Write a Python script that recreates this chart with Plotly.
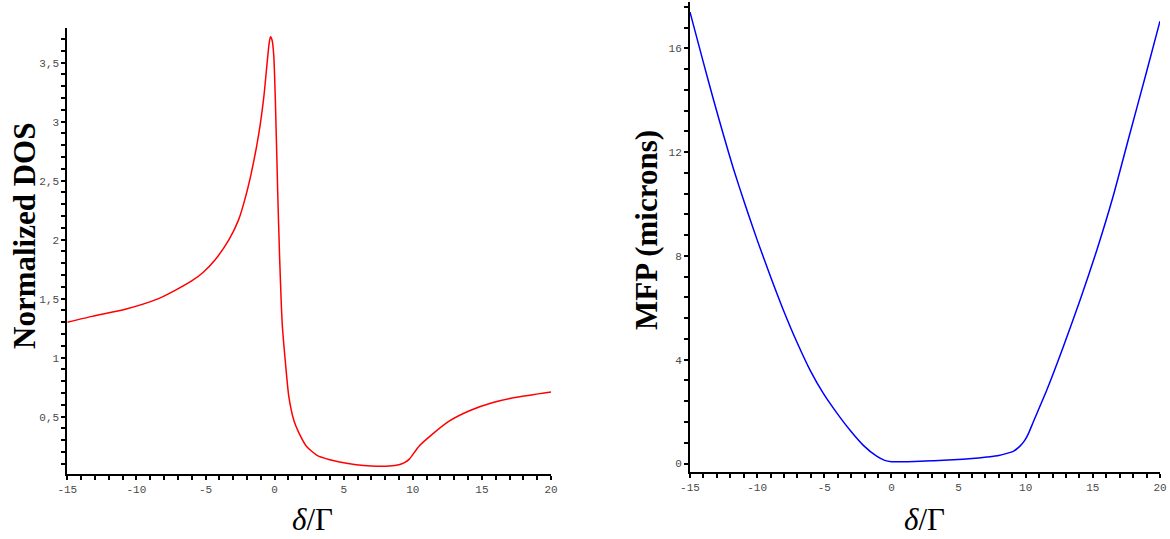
import plotly.graph_objects as go

# ---- data ----
delta_dos = [-15, -13.2, -10.8, -8.4, -7.2, -6.0, -5.2, -4.3, -3.3, -2.6, -2.2, -1.75, -1.14,
             -0.78, -0.54, -0.40, -0.30, -0.18, -0.06, 0.06, 0.23, 0.36, 0.55, 0.79, 1.03,
             1.39, 1.75, 2.3, 3.1, 4.0, 4.7, 5.9, 7.0, 8.3, 9.0, 9.4, 9.75, 10.45, 11.4,
             12.6, 14.1, 15.8, 17.5, 20.0]
dos = [1.30, 1.35, 1.41, 1.50, 1.57, 1.65, 1.72, 1.83, 2.00, 2.17, 2.32, 2.53, 2.90,
       3.21, 3.50, 3.66, 3.72, 3.69, 3.56, 3.16, 2.38, 1.86, 1.29, 0.95, 0.67,
       0.47, 0.365, 0.25, 0.17, 0.135, 0.116, 0.093, 0.082, 0.082, 0.093, 0.11, 0.14, 0.25, 0.35,
       0.46, 0.55, 0.62, 0.665, 0.71]

delta_mfp = [-15, -14.0, -13.25, -12.5, -11.76, -10.9, -10.0, -9.0, -8.05, -7.05, -6.06, -5.07,
             -4.07, -3.08, -2.09, -1.1, -0.5, 0.0, 1.0, 2.13, 3.0, 4.6, 6.0, 7.1, 8.0, 8.6,
             9.1, 9.45, 9.7, 9.95, 10.2, 10.57, 11.57, 12.8, 14.05, 15.3, 16.5, 17.76, 19.0, 20.0]
mfp = [17.4, 15.45, 14.02, 12.65, 11.35, 9.98, 8.62, 7.2, 5.92, 4.69, 3.6, 2.70,
       1.95, 1.28, 0.70, 0.28, 0.12, 0.07, 0.07, 0.09, 0.11, 0.14, 0.19, 0.25, 0.31, 0.39,
       0.48, 0.61, 0.74, 0.91, 1.15, 1.61, 2.83, 4.5, 6.3, 8.23, 10.28, 12.72, 15.1, 17.05]

x_tickvals = [-15, -10, -5, 0, 5, 10, 15, 20]
x_ticktext = ["-15", "-10", "-5", "0", "5", "10", "15", "20"]
dos_tickvals = [0.5, 1, 1.5, 2, 2.5, 3, 3.5]
dos_ticktext = ["0,5", "1", "1,5", "2", "2,5", "3", "3,5"]
mfp_tickvals = [0, 4, 8, 12, 16]
mfp_ticktext = ["0", "4", "8", "12", "16"]

W, H = 1170, 539

def px_x(p):
    return p / W

def px_y(p):
    return 1 - p / H

fig = go.Figure()
fig.add_trace(go.Scatter(x=delta_dos, y=dos, mode="lines",
                         line=dict(color="#ff0000", width=1.5, shape="spline", smoothing=0.6),
                         xaxis="x", yaxis="y", showlegend=False))
fig.add_trace(go.Scatter(x=delta_mfp, y=mfp, mode="lines",
                         line=dict(color="#0000ff", width=1.5, shape="spline", smoothing=0.6),
                         xaxis="x2", yaxis="y2", showlegend=False))

tickfont = dict(family="Liberation Mono", size=11, color="#4a4a4a")
common = dict(showgrid=False, zeroline=False, showline=True, linecolor="black", linewidth=2,
              ticks="outside", ticklen=4, tickwidth=1.5, tickcolor="black",
              tickfont=tickfont, automargin=False, fixedrange=True)
minor_common = dict(ticks="outside", ticklen=4, tickcolor="black", tickwidth=1.5, tick0=0)

fig.update_layout(
    width=W, height=H,
    margin=dict(l=0, r=0, t=0, b=0),
    paper_bgcolor="white", plot_bgcolor="white",
    xaxis=dict(domain=[px_x(67.3), px_x(551)], range=[-15, 20], anchor="y",
               tickmode="array", tickvals=x_tickvals, ticktext=x_ticktext,
               minor=dict(dtick=1, **minor_common), **common),
    yaxis=dict(domain=[px_y(474), px_y(28)], range=[0.014, 3.794], anchor="x",
               tickmode="array", tickvals=dos_tickvals, ticktext=dos_ticktext,
               minor=dict(dtick=0.1, **minor_common), **common),
    xaxis2=dict(domain=[px_x(690), px_x(1160)], range=[-15, 20], anchor="y2",
                tickmode="array", tickvals=x_tickvals, ticktext=x_ticktext,
                minor=dict(dtick=1, **minor_common), **common),
    yaxis2=dict(domain=[px_y(471.7), px_y(1.7)], range=[-0.316, 17.8], anchor="x2",
                tickmode="array", tickvals=mfp_tickvals, ticktext=mfp_ticktext,
                minor=dict(dtick=0.8, **minor_common), **common),
)

title_font = dict(family="Liberation Serif", size=31, color="black")
fig.add_annotation(x=px_x(24), y=px_y(236), xref="paper", yref="paper",
                   text="<b>Normalized DOS</b>", textangle=-90, showarrow=False,
                   font=title_font, xanchor="center", yanchor="middle")
fig.add_annotation(x=px_x(646), y=px_y(230), xref="paper", yref="paper",
                   text="<b>MFP (microns)</b>", textangle=-90, showarrow=False,
                   font=title_font, xanchor="center", yanchor="middle")
xt_font = dict(family="Liberation Serif", size=31, color="black")
fig.add_annotation(x=px_x(312), y=px_y(519), xref="paper", yref="paper",
                   text="<i>δ</i>/Γ", showarrow=False, font=xt_font,
                   xanchor="center", yanchor="middle")
fig.add_annotation(x=px_x(924), y=px_y(519), xref="paper", yref="paper",
                   text="<i>δ</i>/Γ", showarrow=False, font=xt_font,
                   xanchor="center", yanchor="middle")

fig.write_html("out.html", config={"displayModeBar": False},
               post_script="document.body.style.margin='0';")
